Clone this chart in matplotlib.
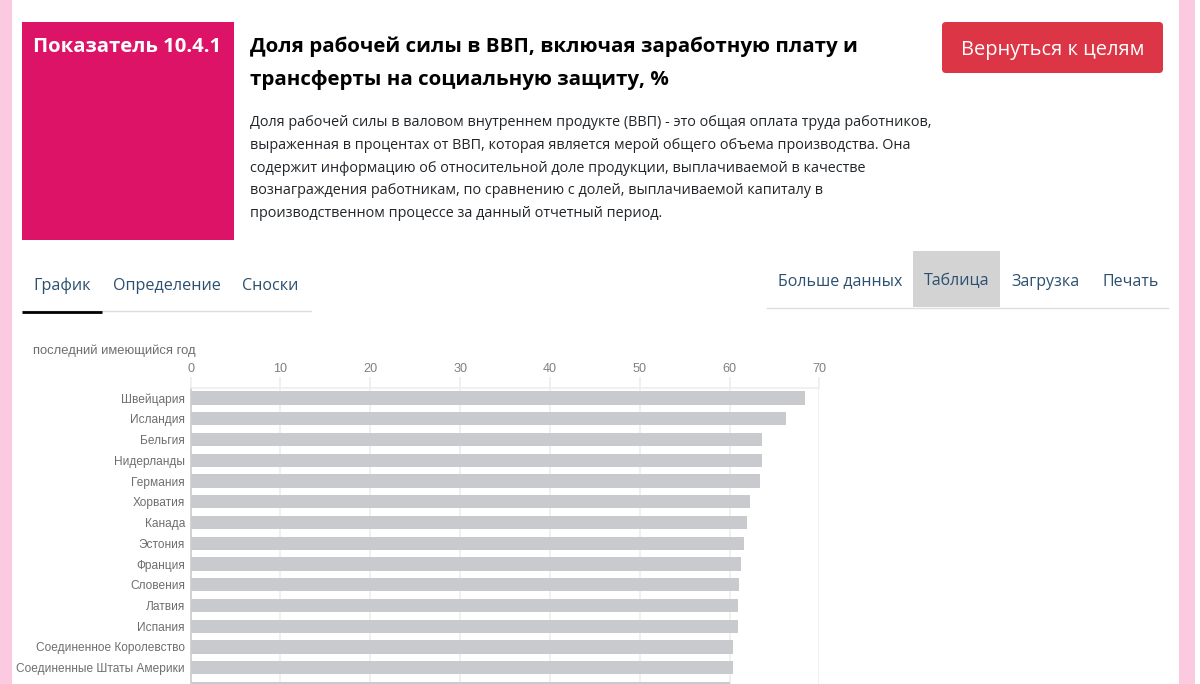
#!usr/bin/python3

import matplotlib
matplotlib.use("Agg")
import matplotlib.pyplot as plt
from matplotlib.patches import Rectangle, FancyBboxPatch

# Data
countries = ["Швейцария", "Исландия", "Бельгия", "Нидерланды", "Германия", "Хорватия", "Канада",
             "Эстония", "Франция", "Словения", "Латвия", "Испания", "Соединенное Королевство",
             "Соединенные Штаты Америки", "Папуа Новая Гвинея"]
shares = [68.4, 66.3, 63.6, 63.6, 63.4, 62.3, 61.9, 61.6, 61.3, 61.0, 60.9, 60.9, 60.4, 60.4, 60.0]
x_ticks = [0, 10, 20, 30, 40, 50, 60, 70]

title_lines = ["Доля рабочей силы в ВВП, включая заработную плату и",
               "трансферты на социальную защиту, %"]
body_lines = ["Доля рабочей силы в валовом внутреннем продукте (ВВП) - это общая оплата труда работников,",
              "выраженная в процентах от ВВП, которая является мерой общего объема производства. Она",
              "содержит информацию об относительной доле продукции, выплачиваемой в качестве",
              "вознаграждения работникам, по сравнению с долей, выплачиваемой капиталу в",
              "производственном процессе за данный отчетный период."]
left_tabs = ["График", "Определение", "Сноски"]
right_tabs = ["Больше данных", "Таблица", "Загрузка", "Печать"]

W, H = 1200, 684
PAGE_FONT = "Open Sans"
LINK = "#2b4f6f"

fig = plt.figure(figsize=(12, 6.84), dpi=100, facecolor="white")

# Page furniture in pixel coordinates
page = fig.add_axes([0, 0, 1, 1])
page.set_xlim(0, W)
page.set_ylim(H, 0)
page.axis("off")

page.add_patch(Rectangle((0, 0), 11.5, H, color="#fbc9e0", lw=0))
page.add_patch(Rectangle((1179, 0), 16, H, color="#fbc9e0", lw=0))
page.add_patch(Rectangle((22, 22), 211.5, 218, color="#dd1367", lw=0))
page.text(33, 46.5, "Показатель 10.4.1", color="white", fontsize=14.6, fontweight="bold",
          family=PAGE_FONT, va="center")

for y, line in zip([46.5, 79.5], title_lines):
    page.text(250, y, line, color="black", fontsize=14.75, fontweight="bold", family=PAGE_FONT, va="center")
for y, line in zip([122.5, 145.5, 168.5, 190.5, 213.5], body_lines):
    page.text(250, y, line, color="#212529", fontsize=10.4, family=PAGE_FONT, va="center")

page.add_patch(FancyBboxPatch((945, 25), 215, 45, boxstyle="round,pad=3,rounding_size=4",
                              fc="#dc3545", ec="none"))
page.text(1052.5, 50.5, "Вернуться к целям", color="white", fontsize=14.45, family=PAGE_FONT,
          ha="center", va="center")

for x, label in zip([33, 112.5, 242], left_tabs):
    page.text(x, 285.5, label, color=LINK, fontsize=11.6, family=PAGE_FONT, va="center")
page.plot([22, 311], [311, 311], color="#dddddd", lw=1)
page.plot([22, 102], [311.5, 311.5], color="black", lw=2, solid_capstyle="butt")

page.add_patch(Rectangle((913, 250.5), 87, 56.5, color="#d3d3d3", lw=0))
for x, label in zip([778, 924, 1011, 1102], right_tabs):
    page.text(x, 281.5, label, color=LINK, fontsize=11.5, family=PAGE_FONT, va="center")
page.plot([767, 1168], [307.5, 307.5], color="#dddddd", lw=1)

page.text(33, 350.5, "последний имеющийся год", color="#6e6e6e", fontsize=9.4,
          family="Liberation Sans", va="center")

# Chart: 0..70 runs over x 190.5..819.5, the bars step 20.75 px and run off the page
top_px, bottom_px = 388, H
left_px, right_px = 190.5, 819.5
ax = fig.add_axes([left_px / W, 0, (right_px - left_px) / W, (bottom_px - top_px) / H])
ax.patch.set_alpha(0)
step = 20.75

ax.barh(range(len(shares)), shares, height=13.2 / step, color="#c9cacd", edgecolor="none", zorder=2)
ax.set_yticks(range(len(countries)))
ax.set_yticklabels(countries, fontsize=8.6, color="#6e6e6e", family="Liberation Sans")
ax.tick_params(axis="y", length=0, pad=4)

ax.set_xticks(x_ticks)
ax.xaxis.tick_top()
ax.tick_params(axis="x", length=8, width=1.2, color="#eeeeee", labelsize=9.1, labelcolor="#808080", pad=1)
for label in ax.get_xticklabels():
    label.set_family("Liberation Sans")
ax.grid(axis="x", color="#eeeeee", lw=1.2, zorder=1)
ax.set_axisbelow(True)

# set_yticks widens the limits, so the limits come after the ticks
ax.set_xlim(0, 70)
ax.set_ylim((bottom_px - 398) / step, (top_px - 398) / step)

for side in ["right", "bottom"]:
    ax.spines[side].set_visible(False)
ax.spines["top"].set_color("#eeeeee")
ax.spines["top"].set_linewidth(1.2)
ax.spines["left"].set_color("#cccccc")
ax.spines["left"].set_linewidth(1.2)

plt.savefig("out.png", dpi=100)
